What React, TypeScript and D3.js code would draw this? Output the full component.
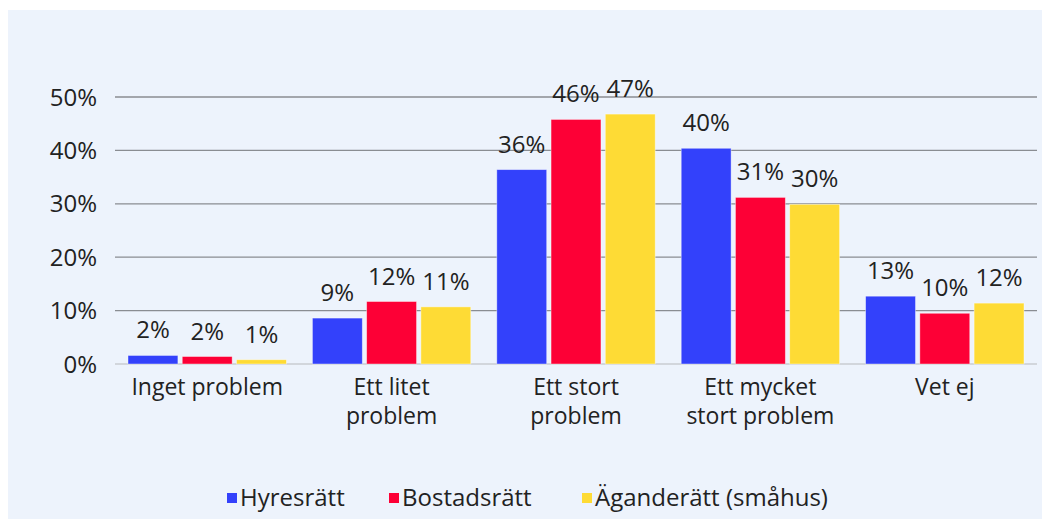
import { useEffect, useRef } from 'react';
import * as d3 from 'd3';

const categories = ['Inget problem', 'Ett litet problem', 'Ett stort problem', 'Ett mycket stort problem', 'Vet ej'];
const categoryLines = [['Inget problem'], ['Ett litet', 'problem'], ['Ett stort', 'problem'], ['Ett mycket', 'stort problem'], ['Vet ej']];
const seriesNames = ['Hyresrätt', 'Bostadsrätt', 'Äganderätt (småhus)'];
const seriesColors = ['#3341fb', '#fd0036', '#fedb35'];
const hyresratt = [1.6, 8.6, 36.4, 40.4, 12.7];
const bostadsratt = [1.4, 11.7, 45.8, 31.2, 9.5];
const aganderatt = [0.8, 10.7, 46.8, 29.9, 11.4];
const valueLabels = [
  ['2%', '9%', '36%', '40%', '13%'],
  ['2%', '12%', '46%', '31%', '10%'],
  ['1%', '11%', '47%', '30%', '12%'],
];
const yTicks = [0, 10, 20, 30, 40, 50];

const W = 1051;
const H = 519;
const FONT = "'Open Sans', 'DejaVu Sans', sans-serif";
const FS = 24;

export default function App() {
  const svgRef = useRef<SVGSVGElement>(null);

  useEffect(() => {
    if (!svgRef.current) return;
    const svg = d3.select(svgRef.current);
    svg.selectAll('*').remove();

    const series = [hyresratt, bostadsratt, aganderatt];
    const left = 115;
    const right = 1037;
    const zeroY = 364;

    // background panel
    svg.append('rect').attr('x', 8).attr('y', 10).attr('width', 1034).attr('height', H - 10).attr('fill', '#edf3fc');

    const x = d3.scaleBand<string>().domain(categories).range([left, right]).paddingInner(0).paddingOuter(0);
    const inner = d3.scaleBand<number>().domain([0, 1, 2]).range([13, x.bandwidth() - 13]).paddingInner(0.08);
    const y = d3.scaleLinear().domain([0, 50]).range([zeroY, 97]);

    // grid
    svg.append('g')
      .selectAll('line')
      .data(yTicks)
      .join('line')
      .attr('x1', left)
      .attr('x2', right)
      .attr('y1', (d) => y(d))
      .attr('y2', (d) => y(d))
      .attr('stroke', (d) => (d === 0 ? '#c9ccd2' : '#8a8d92'))
      .attr('stroke-width', 1.3);

    svg.append('g')
      .selectAll('text')
      .data(yTicks)
      .join('text')
      .attr('x', 97)
      .attr('y', (d) => y(d))
      .attr('dy', '0.36em')
      .attr('text-anchor', 'end')
      .attr('font-family', FONT)
      .attr('font-size', FS)
      .attr('fill', '#222')
      .text((d) => `${d}%`);

    // bars
    series.forEach((vals, si) => {
      const g = svg.append('g');
      g.selectAll('rect')
        .data(vals)
        .join('rect')
        .attr('x', (_, i) => (x(categories[i]) ?? 0) + (inner(si) ?? 0))
        .attr('y', (d) => y(d))
        .attr('width', inner.bandwidth())
        .attr('height', (d) => zeroY - y(d))
        .attr('fill', seriesColors[si])
        .attr('stroke', '#ffffff')
        .attr('stroke-opacity', 0.5)
        .attr('stroke-width', 0.8);

      g.selectAll('text')
        .data(vals)
        .join('text')
        .attr('x', (_, i) => (x(categories[i]) ?? 0) + (inner(si) ?? 0) + inner.bandwidth() / 2)
        .attr('y', (d) => y(d) - 17)
        .attr('text-anchor', 'middle')
        .attr('font-family', FONT)
        .attr('font-size', FS)
        .attr('fill', '#222')
        .text((_, i) => valueLabels[si][i]);
    });

    // category labels (two-line labels as separate texts)
    categoryLines.forEach((lines, i) => {
      const cx = (x(categories[i]) ?? 0) + x.bandwidth() / 2;
      lines.forEach((line, li) => {
        svg.append('text')
          .attr('x', cx)
          .attr('y', 395 + li * 29)
          .attr('text-anchor', 'middle')
          .attr('font-family', FONT)
          .attr('font-size', 23)
          .attr('fill', '#222')
          .text(line);
      });
    });

    // legend
    const legendX = [227, 389, 582];
    seriesNames.forEach((name, i) => {
      svg.append('rect')
        .attr('x', legendX[i])
        .attr('y', 493)
        .attr('width', 10)
        .attr('height', 10)
        .attr('fill', seriesColors[i]);
      svg.append('text')
        .attr('x', legendX[i] + 13)
        .attr('y', 506)
        .attr('font-family', FONT)
        .attr('font-size', FS)
        .attr('fill', '#222')
        .text(name);
    });
  }, []);

  return (
    <svg
      ref={svgRef}
      width={W}
      height={H}
      style={{ position: 'absolute', left: 0, top: 0, background: '#fff' }}
    />
  );
}
